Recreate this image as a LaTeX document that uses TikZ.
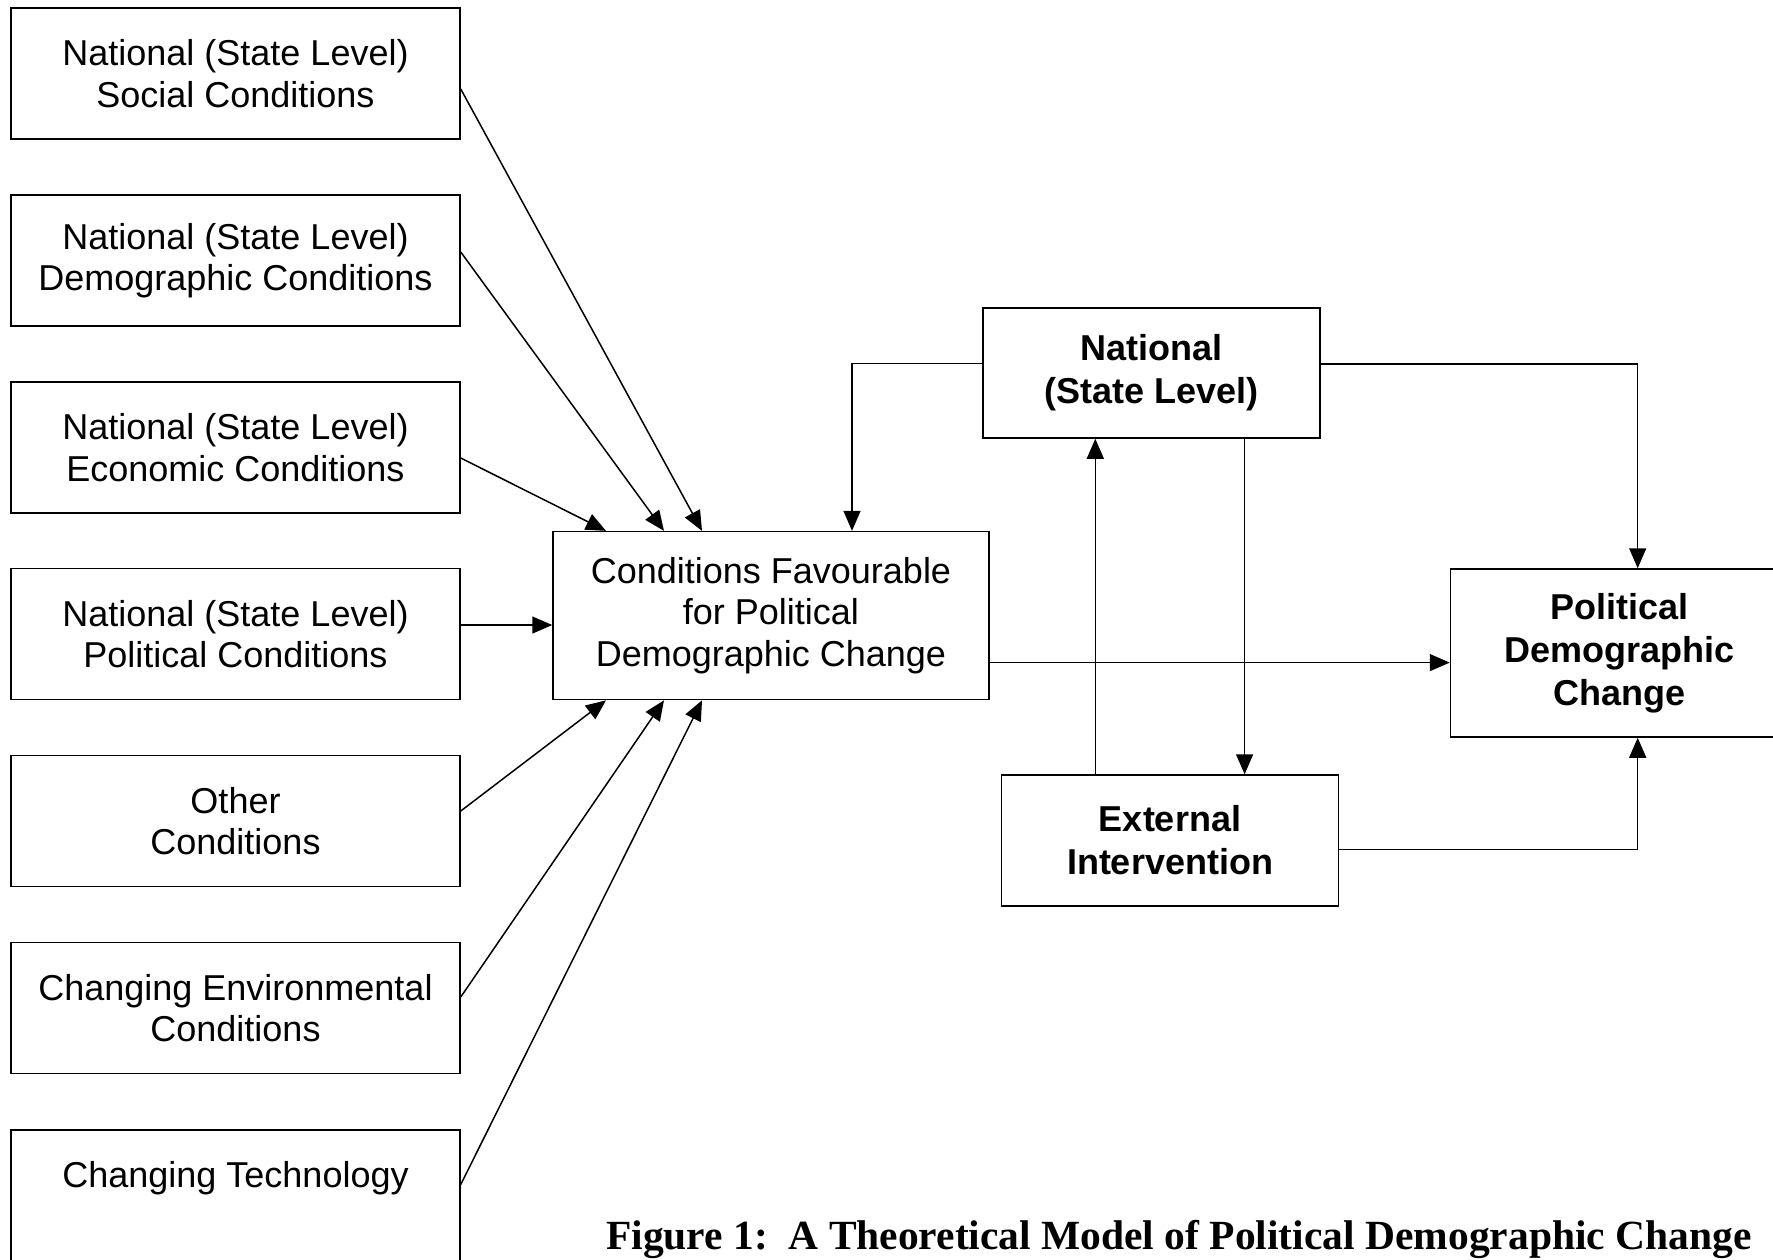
\documentclass[tikz,border=0pt]{standalone}
\usepackage{fontspec}
\setmainfont{Liberation Sans}
\newfontfamily\capfont{Liberation Serif}
\usetikzlibrary{arrows.meta}
\begin{document}
\begin{tikzpicture}[x=1pt,y=-1pt,
  box/.style={draw, line width=1.5pt, align=center, inner sep=0pt, font=\fontsize{36}{41.5}\selectfont},
  lbox/.style={box, minimum width=449pt, minimum height=131pt},
  bbox/.style={box, font=\fontsize{36}{43}\selectfont\bfseries},
  arr/.style={line width=1.5pt, -{Triangle[length=20pt,width=17pt]}}
]
\useasboundingbox (0,0) rectangle (1773,1259);
\fill[white] (0,0) rectangle (1773,1259);
\clip (0,0) rectangle (1773,1259);

% left column
\node[lbox] (b1) at (235.5,73.5)  {National (State Level)\\Social Conditions};
\node[lbox] (b2) at (235.5,260.5) {National (State Level)\\Demographic Conditions};
\node[lbox] (b3) at (235.5,447.5) {National (State Level)\\Economic Conditions};
\node[lbox] (b4) at (235.5,634)   {National (State Level)\\Political Conditions};
\node[lbox] (b5) at (235.5,821)   {Other\\Conditions};
\node[lbox] (b6) at (235.5,1008)  {Changing Environmental\\Conditions};
\node[lbox] (b7) at (235.5,1195.5) {Changing Technology\\\mbox{}};

% centre
\node[box, minimum width=436pt, minimum height=168pt] (cond) at (771,615.6)
  {Conditions Favourable\\for Political\\Demographic Change};

% right
\node[bbox, minimum width=337pt, minimum height=130pt] (nat) at (1151.5,373) {National\\(State Level)};
\node[bbox, minimum width=337pt, minimum height=131pt] (ext) at (1170,840.5) {External\\Intervention};
\node[bbox, minimum width=338pt, minimum height=168pt] (pol) at (1619.5,653) {Political\\Demographic\\Change};

% caption
\node[font=\capfont\bfseries\fontsize{41.5}{48}\selectfont, anchor=base west, inner sep=0pt] (cap)
  at (606,1249) {Figure 1:\ \ A Theoretical Model of Political Demographic Change};

% arrows into the centre box
\draw[arr] ([yshift=-15.5pt]b1.east) -- ([xshift=-69pt]cond.north);
\draw[arr] ([yshift=8.5pt]b2.east)   -- ([xshift=-107pt]cond.north);
\draw[arr] ([yshift=-10.5pt]b3.east) -- ([xshift=-165pt]cond.north);
\draw[arr] ([yshift=9pt]b4.east)     -- ([yshift=-9.4pt]cond.west);
\draw[arr] ([yshift=10pt]b5.east)    -- ([xshift=-165pt]cond.south);
\draw[arr] ([yshift=11pt]b6.east)    -- ([xshift=-107pt]cond.south);
\draw[arr] ([yshift=11pt]b7.east)    -- ([xshift=-69pt]cond.south);

% right-hand connectors
\draw[arr] ([yshift=9.3pt]nat.west) -| ([xshift=81pt]cond.north);
\draw[arr] ([yshift=9.2pt]nat.east) -| ([xshift=18.2pt]pol.north);
\draw[arr] ([yshift=-9pt]ext.east) -| ([xshift=18.2pt]pol.south);
\coordinate (c1) at ([yshift=-47pt]cond.east);
\draw[arr] (c1) -- (c1 -| pol.west);
\coordinate (e1) at ([xshift=-74.7pt]ext.north);
\draw[arr] (e1) -- (e1 |- nat.south);
\coordinate (n1) at ([xshift=93.1pt]nat.south);
\draw[arr] (n1) -- (n1 |- ext.north);
\end{tikzpicture}
\end{document}
